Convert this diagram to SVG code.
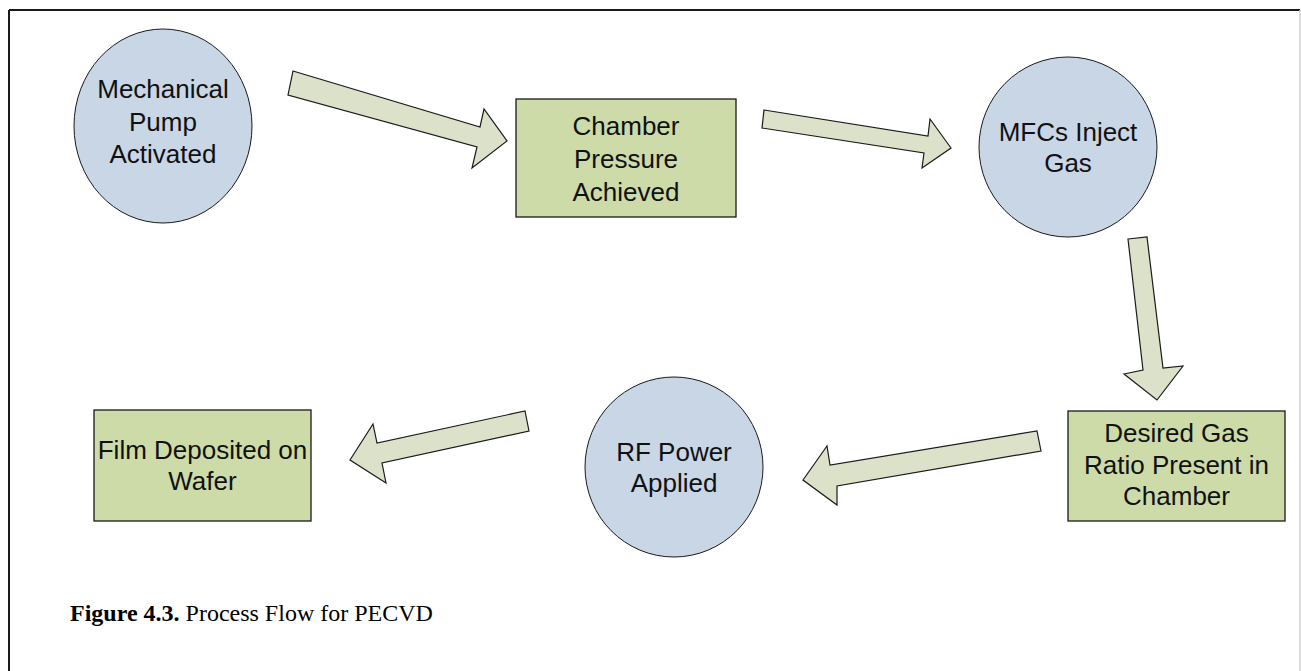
<svg xmlns="http://www.w3.org/2000/svg" width="1301" height="671" viewBox="0 0 1301 671">
<style>
.circ{fill:#c8d6e6;stroke:#1a1a1a;stroke-width:1}
.box{fill:#cddba9;stroke:#1a1a1a;stroke-width:1.3}
.arr{fill:#dce2ca;stroke:#1a1a1a;stroke-width:1.2;stroke-linejoin:miter}
.lbl{font-family:"Liberation Sans",Arial,sans-serif;font-size:26px;fill:#111;text-anchor:middle}
.cap{font-family:"Liberation Serif","Times New Roman",serif;font-size:24px;fill:#000}
</style>
<rect x="0" y="0" width="1301" height="671" fill="#fff"/>
<g id="frame">
<line x1="9" y1="10" x2="1300" y2="10" stroke="#1a1a1a" stroke-width="2"/>
<line x1="9" y1="10" x2="9" y2="671" stroke="#1a1a1a" stroke-width="2"/>
<line x1="1300" y1="10" x2="1300" y2="671" stroke="#cfcfcf" stroke-width="1.5"/>
</g>
<g id="connectors">
<polygon class="arr" points="293,71 480,127 484,109 507,141 472,168 477,147 288,95"/>
<polygon class="arr" points="764,110 928,136 930,119 951,148 922,168 924,153 762,128"/>
<polygon class="arr" points="1128,239 1147,237 1163,368 1183,366 1157,400 1124,374 1143,370"/>
<polygon class="arr" points="1037,431 1041,451 837,486 837,505 803,480 827,446 830,465"/>
<polygon class="arr" points="525,411 529,431 382,463 386,483 350,460 373,424 377,443"/>
</g>
<g id="n1">
<ellipse class="circ" cx="163" cy="126" rx="89" ry="97"/>
<text class="lbl" x="163" y="98">Mechanical</text>
<text class="lbl" x="163" y="131">Pump</text>
<text class="lbl" x="163" y="163">Activated</text>
</g>
<g id="n2">
<rect class="box" x="516" y="99" width="220" height="118"/>
<text class="lbl" x="626" y="135">Chamber</text>
<text class="lbl" x="626" y="168">Pressure</text>
<text class="lbl" x="626" y="201">Achieved</text>
</g>
<g id="n3">
<ellipse class="circ" cx="1068" cy="147" rx="89" ry="90"/>
<text class="lbl" x="1068" y="140.5">MFCs Inject</text>
<text class="lbl" x="1068" y="172">Gas</text>
</g>
<g id="n4">
<rect class="box" x="1068" y="411" width="217" height="110"/>
<text class="lbl" x="1176.5" y="442">Desired Gas</text>
<text class="lbl" x="1176.5" y="473.5">Ratio Present in</text>
<text class="lbl" x="1176.5" y="505">Chamber</text>
</g>
<g id="n5">
<ellipse class="circ" cx="674" cy="467" rx="89" ry="90"/>
<text class="lbl" x="674" y="460.5">RF Power</text>
<text class="lbl" x="674" y="492">Applied</text>
</g>
<g id="n6">
<rect class="box" x="94" y="410" width="217" height="111"/>
<text class="lbl" x="202.5" y="458.5">Film Deposited on</text>
<text class="lbl" x="202.5" y="490">Wafer</text>
</g>
<g id="caption">
<text class="cap" x="70" y="621"><tspan font-weight="bold">Figure 4.3.</tspan> Process Flow for PECVD</text>
</g>
</svg>
